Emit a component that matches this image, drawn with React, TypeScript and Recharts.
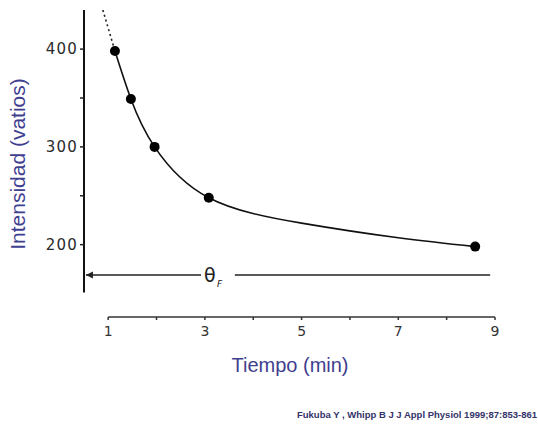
import React from 'react';
import {
  ComposedChart,
  Line,
  Scatter,
  XAxis,
  YAxis,
  ReferenceLine,
  ReferenceDot,
} from 'recharts';

// Measured points (time in min, power in watts)
const pointT = [1.14, 1.47, 1.96, 3.08, 8.59];
const pointP = [398, 349, 300, 248, 198];

// Fitted hyperbola (solid part)
const curveT = [1.14, 1.47, 1.96, 3.08, 5, 7, 8.59];
const curveP = [398, 349, 300, 248, 222, 207, 198];

// Dotted extrapolation above the first point
const dotT = [0.89, 1.14];
const dotP = [440, 398];

const xTicks = [1, 2, 3, 4, 5, 6, 7, 8, 9];
const xLabelTicks = [1, 3, 5, 7, 9];
const yTicks = [200, 250, 300, 350, 400];
const yLabelTicks = [200, 300, 400];

const points = pointT.map((t, i) => ({ t, p: pointP[i] }));
const curve = curveT.map((t, i) => ({ t, p: curveP[i] }));
const dotted = dotT.map((t, i) => ({ t, p: dotP[i] }));

// Annotation: theta_F arrow level
const arrowLevel = 169;
const arrowStart = 0.54;
const gapStart = 2.92;
const gapEnd = 3.62;
const arrowEnd = 8.9;
const thetaT = 3.1;

const BLUE = '#3f3f90';

const XTick = (props: any) => {
  const v = props.payload.value;
  if (!xLabelTicks.includes(v)) return <g />;
  return (
    <text x={props.x} y={props.y} dy={14} textAnchor="middle" fontFamily="DejaVu Sans" fontSize={14} fill="#333">
      {v}
    </text>
  );
};

const YTick = (props: any) => {
  const v = props.payload.value;
  if (!yLabelTicks.includes(v)) return <g />;
  return (
    <text x={props.x} y={props.y} dy={5} textAnchor="end" fontFamily="DejaVu Sans" fontSize={15} letterSpacing={1.2} fill="#2a2a2a">
      {v}
    </text>
  );
};

const ArrowShape = (props: any) => {
  const { x1, y1, x2, y2 } = props;
  const left = Math.min(x1, x2);
  return (
    <g>
      <line x1={x1} y1={y1} x2={x2} y2={y2} stroke="#222" strokeWidth={1.6} />
      <polygon points={`${left},${y1} ${left + 7},${y1 - 3.5} ${left + 7},${y1 + 3.5}`} fill="#222" />
    </g>
  );
};

const ThetaShape = (props: any) => (
  <g>
    <text x={props.cx} y={props.cy} dy={7} textAnchor="middle" fontFamily="DejaVu Sans" fontSize={19} fill="#222" stroke="none">
      θ
    </text>
    <text x={props.cx + 10} y={props.cy + 12} textAnchor="middle" fontFamily="DejaVu Sans" fontStyle="italic" fontSize={9} fill="#222" stroke="none">
      F
    </text>
  </g>
);

const DotShape = (props: any) => <circle cx={props.cx} cy={props.cy} r={5} fill="#000" />;

const XLabel = () => (
  <g>
    <text x={290} y={372} textAnchor="middle" fontFamily="Liberation Sans" fontSize={20} fill={BLUE}>
      Tiempo (min)
    </text>
    <text x={537} y={418} textAnchor="end" fontFamily="Liberation Sans" fontWeight="bold" fontSize={9.5} fill="#33336a">
      Fukuba Y , Whipp B J J Appl Physiol 1999;87:853-861
    </text>
  </g>
);

const YLabel = () => (
  <text
    x={25}
    y={164}
    transform="rotate(-90 25 164)"
    textAnchor="middle"
    fontFamily="Liberation Sans"
    fontSize={21}
    fill={BLUE}
  >
    Intensidad (vatios)
  </text>
);

export default function App() {
  return (
    <div style={{ position: 'absolute', left: 0, top: 0, width: 538, height: 429, background: '#fff' }}>
      <ComposedChart width={538} height={429} margin={{ top: 10, right: 43, left: 0, bottom: 0 }}>
        <XAxis
          dataKey="t"
          type="number"
          domain={[0.5, 9]}
          ticks={xTicks}
          axisLine={false}
          tickLine={{ stroke: '#333', strokeWidth: 1.5 }}
          tickSize={3}
          tick={<XTick />}
          height={112}
          label={{ content: <XLabel /> }}
          allowDataOverflow
        />
        <YAxis
          dataKey="p"
          type="number"
          domain={[126, 440]}
          ticks={yTicks}
          axisLine={false}
          tickLine={{ stroke: '#222', strokeWidth: 1.5 }}
          tickSize={4}
          tick={<YTick />}
          width={84}
          label={{ content: <YLabel /> }}
          allowDataOverflow
        />
        <ReferenceLine
          segment={[{ x: 0.5, y: 151 }, { x: 0.5, y: 440 }]}
          stroke="#111"
          strokeWidth={2}
          ifOverflow="visible"
        />
        <ReferenceLine
          segment={[{ x: 1, y: 126 }, { x: 9, y: 126 }]}
          stroke="#333"
          strokeWidth={1.5}
          ifOverflow="visible"
        />
        <ReferenceLine
          segment={[{ x: arrowStart, y: arrowLevel }, { x: gapStart, y: arrowLevel }]}
          ifOverflow="visible"
          shape={<ArrowShape />}
        />
        <ReferenceLine
          segment={[{ x: gapEnd, y: arrowLevel }, { x: arrowEnd, y: arrowLevel }]}
          stroke="#222"
          strokeWidth={1.6}
          ifOverflow="visible"
        />
        <ReferenceDot x={thetaT} y={arrowLevel} r={0} ifOverflow="visible" shape={<ThetaShape />} />
        <Line
          data={dotted}
          dataKey="p"
          type="linear"
          stroke="#222"
          strokeWidth={1.6}
          strokeDasharray="2 3"
          dot={false}
          activeDot={false}
          isAnimationActive={false}
        />
        <Line
          data={curve}
          dataKey="p"
          type="natural"
          stroke="#111"
          strokeWidth={1.6}
          dot={false}
          activeDot={false}
          isAnimationActive={false}
        />
        <Scatter data={points} dataKey="p" shape={<DotShape />} isAnimationActive={false} />
      </ComposedChart>
    </div>
  );
}
